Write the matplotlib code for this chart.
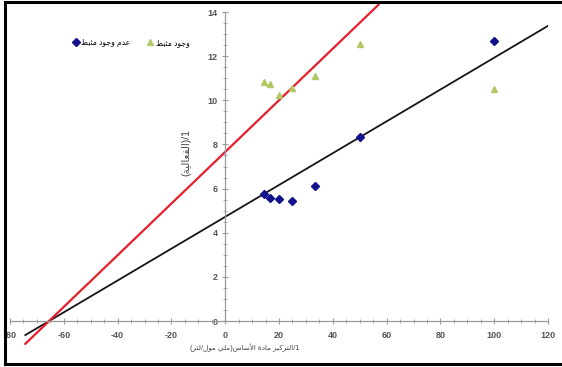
import re
import matplotlib
matplotlib.use("Agg")
import matplotlib.pyplot as plt
from matplotlib.lines import Line2D
from matplotlib.ticker import MultipleLocator, FixedLocator
import numpy as np

plt.rcParams['font.family'] = ['Liberation Sans', 'DejaVu Sans']
plt.rcParams['axes.unicode_minus'] = False

# data (1/[S] vs 1/v)
inv_s = [14.29, 16.67, 20, 25, 33.33, 50, 100]
no_inhib = [5.74, 5.59, 5.51, 5.45, 6.12, 8.32, 12.7]
with_inhib = [10.84, 10.74, 10.24, 10.54, 11.1, 12.55, 10.5]

# fitted lines (intercept, slope)
line_no = (4.72, 0.0721)
line_with = (7.66, 0.117)
line_x = [-74.3, 121]
line_x_red = [-74.3, 57]

lbl_no = 'عدم وجود مثبط'
lbl_with = 'وجود مثبط'
ylab = '1/(الفعالية)'
xlab = '1/التركيز مادة الأساس(ملي مول/لتر)'

# minimal arabic shaping (no reshaper available): isolated, final, initial, medial
FORMS = {
    'ا': ('\ufe8d', '\ufe8e', None, None),
    'أ': ('\ufe83', '\ufe84', None, None),
    'ب': ('\ufe8f', '\ufe90', '\ufe91', '\ufe92'),
    'ة': ('\ufe93', '\ufe94', None, None),
    'ت': ('\ufe95', '\ufe96', '\ufe97', '\ufe98'),
    'ث': ('\ufe99', '\ufe9a', '\ufe9b', '\ufe9c'),
    'ج': ('\ufe9d', '\ufe9e', '\ufe9f', '\ufea0'),
    'د': ('\ufea9', '\ufeaa', None, None),
    'ر': ('\ufead', '\ufeae', None, None),
    'ز': ('\ufeaf', '\ufeb0', None, None),
    'س': ('\ufeb1', '\ufeb2', '\ufeb3', '\ufeb4'),
    'ط': ('\ufec1', '\ufec2', '\ufec3', '\ufec4'),
    'ع': ('\ufec9', '\ufeca', '\ufecb', '\ufecc'),
    'ف': ('\ufed1', '\ufed2', '\ufed3', '\ufed4'),
    'ك': ('\ufed9', '\ufeda', '\ufedb', '\ufedc'),
    'ل': ('\ufedd', '\ufede', '\ufedf', '\ufee0'),
    'م': ('\ufee1', '\ufee2', '\ufee3', '\ufee4'),
    'ن': ('\ufee5', '\ufee6', '\ufee7', '\ufee8'),
    'و': ('\ufeed', '\ufeee', None, None),
    'ي': ('\ufef1', '\ufef2', '\ufef3', '\ufef4'),
}
LAM_ALEF = {'ا': ('\ufefb', '\ufefc'), 'أ': ('\ufef7', '\ufef8')}


def shape(text):
    out = []
    i = 0
    while i < len(text):
        c = text[i]
        if c not in FORMS:
            out.append(c)
            i += 1
            continue
        prev = text[i-1] if i > 0 else None
        jp = prev in FORMS and FORMS[prev][2] is not None
        nxt = text[i+1] if i + 1 < len(text) else None
        if c == 'ل' and nxt in LAM_ALEF:
            out.append(LAM_ALEF[nxt][1 if jp else 0])
            i += 2
            continue
        jn = FORMS[c][2] is not None and nxt in FORMS
        iso, fin, ini, med = FORMS[c]
        out.append(med if (jp and jn) else fin if jp else ini if jn else iso)
        i += 1
    s = ''.join(out)[::-1]
    s = s.translate(str.maketrans('()', ')('))
    return re.sub(r'[0-9A-Za-z.]+', lambda m: m.group(0)[::-1], s)


W, H = 562, 367
fig = plt.figure(figsize=(W/100, H/100), dpi=100)
ax = fig.add_axes([10/W, 1 - 347.5/H, 538/W, 335.5/H])
ax.set_xlim(-80, 120)
ax.set_ylim(-1.2, 14)

ax.plot(line_x, [line_no[0] + line_no[1]*x for x in line_x],
        color='#151515', lw=1.3, zorder=2)
ax.plot(line_x_red, [line_with[0] + line_with[1]*x for x in line_x_red],
        color='#e5202a', lw=1.6, zorder=2, clip_on=False)

ax.plot(inv_s, no_inhib, 'D', color='#12128c', ms=4, zorder=3, label=shape(lbl_no))
ax.plot(inv_s, with_inhib, '^', color='#b2c866', ms=4.5, zorder=3, label=shape(lbl_with))

for s in ['top', 'right']:
    ax.spines[s].set_visible(False)
ax.spines['left'].set_position(('data', 0))
ax.spines['bottom'].set_position(('data', 0))
ax.spines['left'].set_bounds(0, 14)
for s in ['left', 'bottom']:
    ax.spines[s].set_color('#9a9a9a')
    ax.spines[s].set_linewidth(0.9)

ax.xaxis.set_major_locator(MultipleLocator(20))
ax.xaxis.set_minor_locator(MultipleLocator(5))
ax.yaxis.set_major_locator(FixedLocator(np.arange(0, 15, 2)))
ax.yaxis.set_minor_locator(FixedLocator(np.arange(0, 14.01, 0.5)))
ax.tick_params(which='major', direction='inout', length=5, width=0.8,
               color='#9a9a9a', labelsize=6.5, labelcolor='#555555')
ax.tick_params(which='minor', direction='inout', length=3, width=0.6, color='#9a9a9a')
ax.tick_params(axis='x', pad=5)
ax.tick_params(axis='y', pad=3)
for t in ax.get_xticklabels() + ax.get_yticklabels():
    t.set_fontweight('bold')

fig.text(186/W, 1 - 152/H, shape(ylab), rotation=90, ha='center', va='center',
         fontsize=7.5, color='#444444')
fig.text(245/W, 1 - 348/H, shape(xlab), ha='center', va='center',
         fontsize=5.2, color='#444444')

fig.legend(loc='upper left', bbox_to_anchor=(70/W, 1 - 36/H), ncol=2,
           frameon=False, fontsize=5.5, handlelength=0.8, handletextpad=0.3,
           columnspacing=2.2, borderaxespad=0)

# outer frame (left, top, bottom only)
fig.add_artist(Line2D([5/W, 5/W], [1 - 364/H, 1 - 2/H], transform=fig.transFigure,
                      color='black', lw=2.2))
fig.add_artist(Line2D([5/W, 1], [1 - 2/H, 1 - 2/H], transform=fig.transFigure,
                      color='black', lw=2.2))
fig.add_artist(Line2D([5/W, 1], [1 - 364/H, 1 - 364/H], transform=fig.transFigure,
                      color='black', lw=2.2))

plt.savefig('out.png', dpi=100, facecolor='white')
plt.close()
